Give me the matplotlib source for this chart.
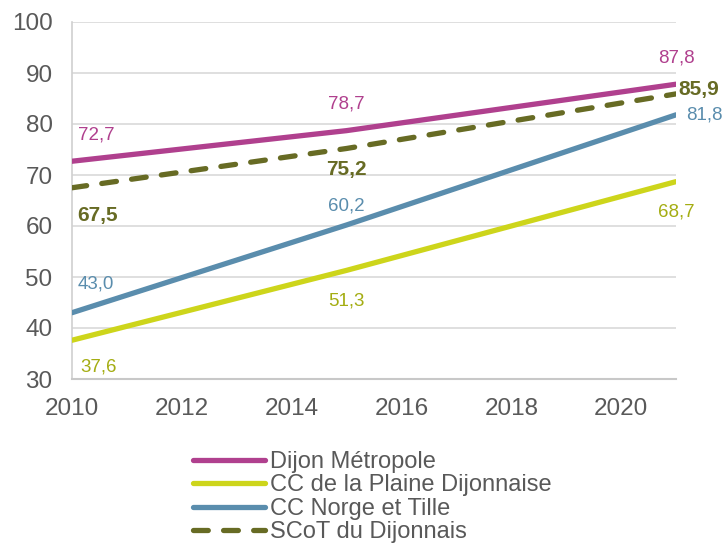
import numpy as np
import matplotlib
matplotlib.use("Agg")
import matplotlib.pyplot as plt

plt.rcParams['font.family'] = ['Liberation Sans', 'DejaVu Sans']

# donnees
annees = [2010, 2015, 2021]
dijon = [72.7, 78.7, 87.8]
plaine = [37.6, 51.3, 68.7]
norge = [43.0, 60.2, 81.8]
scot = [67.5, 75.2, 85.9]
noms = ["Dijon Métropole", "CC de la Plaine Dijonnaise", "CC Norge et Tille", "SCoT du Dijonnais"]

c_dijon = "#B0408E"
c_plaine = "#CDD51B"
c_norge = "#5A8DAD"
c_scot = "#676B24"
c_plaine_txt = "#A4AD12"

fig = plt.figure(figsize=(7.23, 5.44), dpi=100)
ax = fig.add_axes([72/723, 1-379/544, (676-72)/723, (379-22)/544])

lw = 3.8
ax.plot(annees, dijon, color=c_dijon, lw=lw, solid_capstyle='round', label=noms[0], zorder=3)
ax.plot(annees, plaine, color=c_plaine, lw=lw, solid_capstyle='round', label=noms[1], zorder=3)
ax.plot(annees, norge, color=c_norge, lw=lw, solid_capstyle='round', label=noms[2], zorder=3)
ax.plot(annees, scot, color=c_scot, lw=lw, linestyle=(0, (2.8, 2.9)), dash_capstyle='round',
        label=noms[3], zorder=4)

def lbl(v):
    return ("%.1f" % v).replace(".", ",")

# etiquettes (offsets en points)
fs = 13.5
fb = 15
for i, (x, v) in enumerate(zip(annees, dijon)):
    ha = 'left' if i == 0 else 'center'
    dx = 4 if i == 0 else 0
    ax.annotate(lbl(v), (x, v), xytext=(dx, 19), textcoords='offset points',
                ha=ha, va='center', color=c_dijon, fontsize=fs)
for i, (x, v) in enumerate(zip(annees, plaine)):
    ha = 'left' if i == 0 else 'center'
    dx = 6 if i == 0 else 0
    dy = -19 if i == 0 else -22
    ax.annotate(lbl(v), (x, v), xytext=(dx, dy), textcoords='offset points',
                ha=ha, va='center', color=c_plaine_txt, fontsize=fs)
for i, (x, v) in enumerate(zip(annees, norge)):
    if i == 2:
        ax.annotate(lbl(v), (x, v), xytext=(7, 0), textcoords='offset points',
                    ha='left', va='center', color=c_norge, fontsize=fs)
    else:
        ha = 'left' if i == 0 else 'center'
        dx = 4 if i == 0 else 0
        dy = 21 if i == 0 else 14
        ax.annotate(lbl(v), (x, v), xytext=(dx, dy), textcoords='offset points',
                    ha=ha, va='center', color=c_norge, fontsize=fs)
for i, (x, v) in enumerate(zip(annees, scot)):
    if i == 2:
        ax.annotate(lbl(v), (x, v), xytext=(2, 3), textcoords='offset points',
                    ha='left', va='center', color=c_scot, fontsize=fb, fontweight='bold')
    else:
        ha = 'left' if i == 0 else 'center'
        dx = 4 if i == 0 else 0
        dy = -20 if i == 0 else -15
        ax.annotate(lbl(v), (x, v), xytext=(dx, dy), textcoords='offset points',
                    ha=ha, va='center', color=c_scot, fontsize=fb, fontweight='bold')

ax.set_xlim(2010, 2021)
ax.set_ylim(30, 100)
ax.set_xticks(np.arange(2010, 2021, 2))
ax.set_yticks(np.arange(30, 101, 10))
ax.grid(axis='y', color='#D9D9D9', lw=1.2, zorder=0)
ax.set_axisbelow(True)
for s in ['top', 'right']:
    ax.spines[s].set_visible(False)
ax.spines['left'].set_color('#D0D0D0')
ax.spines['bottom'].set_color('#C8C8C8')
ax.spines['left'].set_linewidth(1.2)
ax.spines['bottom'].set_linewidth(1.5)
ax.tick_params(length=0, labelsize=17.5, labelcolor='#595959')
ax.tick_params(axis='x', pad=14)
ax.tick_params(axis='y', pad=14)

fig.legend(loc='upper left', bbox_to_anchor=(193/723, 1-451/544), frameon=False,
           fontsize=17, handlelength=3.05, handletextpad=0.2, labelspacing=0.06,
           borderpad=0, borderaxespad=0, labelcolor='#595959')

fig.savefig("out.png", dpi=100)
